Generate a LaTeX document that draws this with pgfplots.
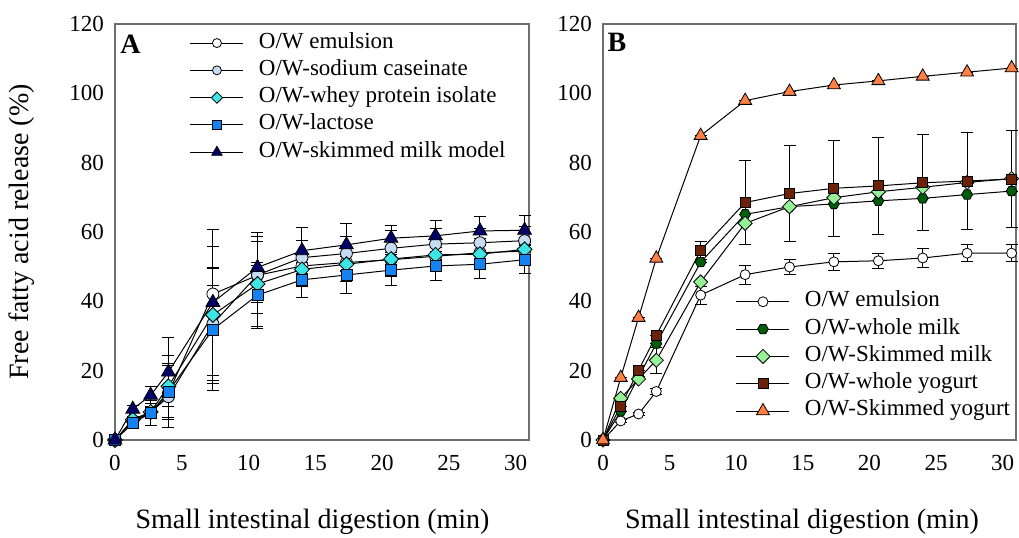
\documentclass[border=0pt]{standalone}
\usepackage{fontspec}
\setmainfont{Liberation Serif}
\usepackage{pgfplots}
\usepackage{pgfplotstable}
\pgfplotsset{compat=1.18}

\definecolor{caseinate}{HTML}{C5DCF2}
\definecolor{wpi}{HTML}{3CE6E6}
\definecolor{lactose}{HTML}{1482F0}
\definecolor{navyx}{HTML}{000066}
\definecolor{wmilk}{HTML}{005E0A}
\definecolor{smilk}{HTML}{96F096}
\definecolor{wyog}{HTML}{6B2208}
\definecolor{syog}{HTML}{FF7F45}
\definecolor{framegray}{HTML}{6E6E6E}

% filled hexagon marker
\pgfdeclareplotmark{hexagon*}{%
  \pgfpathmoveto{\pgfqpointpolar{0}{\pgfplotmarksize}}%
  \pgfpathlineto{\pgfqpointpolar{60}{\pgfplotmarksize}}%
  \pgfpathlineto{\pgfqpointpolar{120}{\pgfplotmarksize}}%
  \pgfpathlineto{\pgfqpointpolar{180}{\pgfplotmarksize}}%
  \pgfpathlineto{\pgfqpointpolar{240}{\pgfplotmarksize}}%
  \pgfpathlineto{\pgfqpointpolar{300}{\pgfplotmarksize}}%
  \pgfpathclose
  \pgfusepathqfillstroke
}

% Panel A: emulsions stabilised with milk components (mean, sd)
\pgfplotstableread{
t     emul  emulE cas   casE  wpi   wpiE  lac   lacE  skm   skmE
0     0     0     0     0     0     0     0     0     0     0
1.33  5.5   0.5   5.5   0.8   5.9   1.0   4.8   1.0   8.9   1.0
2.67  7.8   0.8   8.0   1.5   8.1   1.5   7.8   3.5   12.9  2.4
4     13.5  1.5   12.5  9.0   15.5  8.9   14.0  8.0   19.6  10.0
7.33  42.1  2.6   33.5  16.2  36.1  19.7  31.9  17.5  39.7  21.0
10.67 47.5  2.7   47.6  11.0  45.0  12.4  41.8  9.5   49.8  10.0
14    50.2  2.3   52.6  5.0   49.2  5.0   46.2  5.1   54.6  6.8
17.33 51.2  2.5   53.8  5.0   50.7  5.0   47.6  5.3   56.3  6.1
20.67 52.0  2.1   55.3  5.0   52.2  5.0   49.0  4.5   58.2  3.6
24    53.0  2.6   56.5  4.5   53.4  4.5   50.2  4.1   58.9  4.5
27.33 54.0  2.4   56.9  4.0   53.6  4.5   50.7  4.1   60.3  4.2
30.67 54.5  2.4   57.5  4.0   55.0  4.5   52.0  4.0   60.5  4.2
}\tabA

% Panel B: emulsion mixed with dairy foods (mean, sd)
\pgfplotstableread{
t     emul  emulE wm    wmE   sm    smE   wy    wyE   sy    syE
0     0     0     0     0     0     0     0     0     0     0
1.33  5.5   0.5   8.3   0     12.0  0     9.8   0     18.0  0
2.67  7.5   0.5   18.2  0     17.6  0     20.1  0     35.3  0
4     14.0  1.0   27.8  0     23.0  3.7   30.2  0     52.4  0
7.33  41.8  2.6   51.3  0     45.6  0     54.7  2.6   87.8  0
10.67 47.7  2.7   65.1  0     62.5  0     68.5  12.2  97.9  0
14    49.9  2.3   67.3  0     67.3  0     71.1  13.9  100.5 0
17.33 51.4  2.5   68.1  0     69.9  0     72.6  13.9  102.4 0
20.67 51.7  2.1   69.0  0     71.6  0     73.3  13.9  103.6 0
24    52.5  2.6   69.7  0     72.9  0     74.2  13.9  104.9 0
27.33 53.9  2.4   70.8  0     74.3  0     74.7  13.9  106.1 0
30.67 53.9  2.4   71.8  0     75.4  0     75.3  13.9  107.3 0
}\tabB

\pgfplotsset{
  panel/.style={
    scale only axis, height=208pt,
    xmin=0, xmax=31, ymin=0, ymax=120,
    xtick={0,5,...,30}, ytick={0,20,...,120},
    major tick length=0pt,
    axis line style={framegray, line width=0.75pt},
    clip=false,
    /pgf/number format/assume math mode=true,
    tick label style={font=\fontsize{11.5}{13}\selectfont},
    yticklabel style={xshift=-2pt},
    xticklabel style={yshift=-4pt},
    label style={font=\fontsize{14}{16}\selectfont},
    xlabel={Small intestinal digestion (min)},
    legend cell align=left,
    legend style={draw=none, fill=none, anchor=north west,
      inner sep=0pt, outer sep=0pt, row sep=0pt, column sep=7.5pt,
      font=\fontsize{11.5}{13}\selectfont,
      nodes={inner sep=0pt, text height=9.3pt, text depth=4.35pt}},
    legend image code/.code={%
      \draw[mark repeat=2, mark phase=2]
        plot coordinates {(0pt,0pt) (13.25pt,0pt) (26.5pt,0pt)};},
  },
  mk/.style={mark options={solid, draw=black, line width=0.4pt, fill=#1}},
  ser/.style={black, line width=0.5pt,
    /pgfplots/error bars/y dir=both,
    /pgfplots/error bars/y explicit,
    /pgfplots/error bars/error bar style={black, line width=0.5pt},
    /pgfplots/error bars/error mark options={black, line width=0.5pt, mark size=3pt, rotate=90}},
}

\begin{document}
\begin{tikzpicture}
% ---------------- panel A ----------------
\begin{axis}[panel, at={(57.5pt,48.5pt)}, anchor=south west, width=207pt,
  ylabel={Free fatty acid release (\%)},
  ylabel style={at={(axis description cs:-0.2246,0.5)}, anchor=center},
  xlabel style={at={(axis description cs:0.477,-0.197)}, anchor=center},
  legend style={at={(axis description cs:0.181,0.987)}},
  legend image post style={every mark/.append style={scale=0.75}}]
\addplot[ser, mark=*, mark size=3pt, mk=white]
  table[x=t, y=emul, y error=emulE] {\tabA};
\addlegendentry{O/W emulsion}
\addplot[ser, mark=*, mark size=3pt, mk=caseinate]
  table[x=t, y=cas, y error=casE] {\tabA};
\addlegendentry{O/W-sodium caseinate}
\addplot[ser, mark=square*, mark size=2.65pt, mark options={solid, draw=black, line width=0.4pt, fill=wpi, rotate=45}]
  table[x=t, y=wpi, y error=wpiE] {\tabA};
\addlegendentry{O/W-whey protein isolate}
\addplot[ser, mark=square*, mark size=2.75pt, mk=lactose]
  table[x=t, y=lac, y error=lacE] {\tabA};
\addlegendentry{O/W-lactose}
\addplot[ser, mark=triangle*, mark size=4pt, mk=navyx]
  table[x=t, y=skm, y error=skmE] {\tabA};
\addlegendentry{O/W-skimmed milk model}
\node[anchor=north west, inner sep=0pt, font=\bfseries\fontsize{14}{16}\selectfont]
  at (axis description cs:0.012,0.974) {A};
\end{axis}
% ---------------- panel B ----------------
\begin{axis}[panel, at={(301.5pt,48.5pt)}, anchor=south west, width=206.5pt,
  xlabel style={at={(axis description cs:0.482,-0.197)}, anchor=center},
  legend style={at={(axis description cs:0.322,0.365)}}]
\addplot[ser, mark=*, mark size=2.5pt, mk=white]
  table[x=t, y=emul, y error=emulE] {\tabB};
\addlegendentry{O/W emulsion}
\addplot[ser, mark=hexagon*, mark size=2.7pt, mk=wmilk]
  table[x=t, y=wm, y error=wmE] {\tabB};
\addlegendentry{O/W-whole milk}
\addplot[ser, mark=square*, mark size=2.5pt, mark options={solid, draw=black, line width=0.4pt, fill=smilk, rotate=45}]
  table[x=t, y=sm, y error=smE] {\tabB};
\addlegendentry{O/W-Skimmed milk}
\addplot[ser, mark=square*, mark size=2.5pt, mk=wyog]
  table[x=t, y=wy, y error=wyE] {\tabB};
\addlegendentry{O/W-whole yogurt}
\addplot[ser, mark=triangle*, mark size=3.75pt, mk=syog]
  table[x=t, y=sy, y error=syE] {\tabB};
\addlegendentry{O/W-Skimmed yogurt}
\node[anchor=north west, inner sep=0pt, font=\bfseries\fontsize{14}{16}\selectfont]
  at (axis description cs:0.01,0.98) {B};
\end{axis}
\pgfresetboundingbox
\path (0pt,0pt) rectangle (509.5pt,268.5pt);
\end{tikzpicture}
\end{document}
